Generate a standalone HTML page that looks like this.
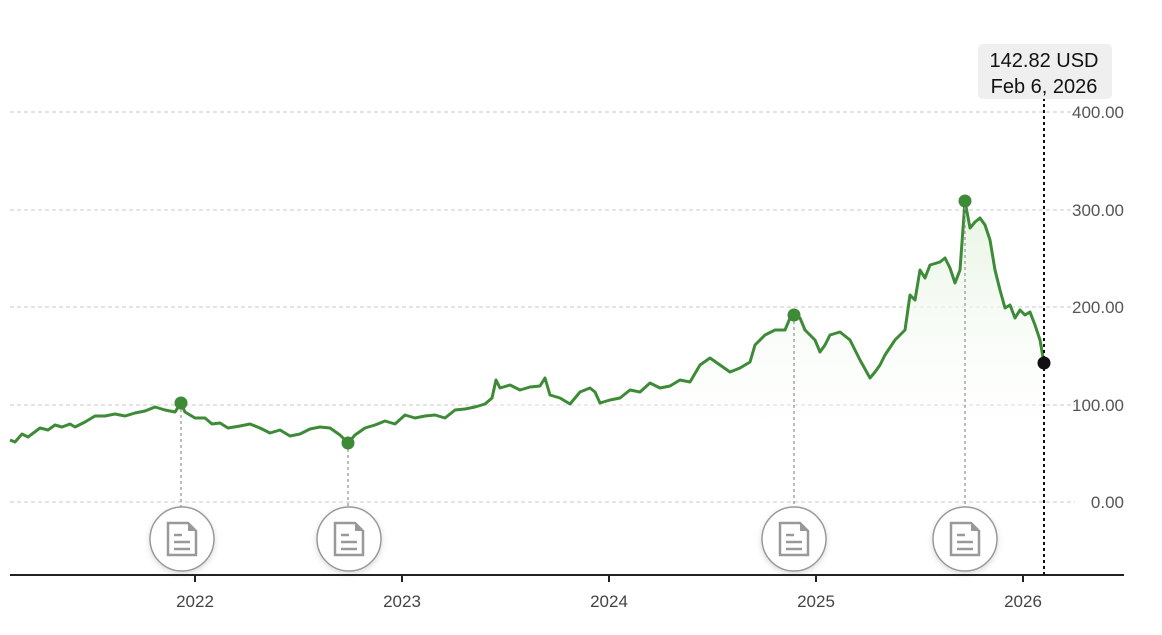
<!DOCTYPE html>
<html><head><style>
body{margin:0;background:#fff;font-family:"Liberation Sans",sans-serif;}
</style></head><body>
<svg width="1162" height="630" viewBox="0 0 1162 630" xmlns="http://www.w3.org/2000/svg" font-family="Liberation Sans, sans-serif">
<defs>
<linearGradient id="g" x1="0" y1="0" x2="0" y2="1"><stop offset="0" stop-color="#e6f4e2"/><stop offset="1" stop-color="#ffffff" stop-opacity="0.2"/></linearGradient>
<filter id="sh" x="-30%" y="-30%" width="160%" height="160%"><feDropShadow dx="0" dy="2" stdDeviation="3" flood-color="#000" flood-opacity="0.15"/></filter>
</defs>
<g stroke="#c8c8c8" stroke-dasharray="4,3" stroke-width="1">
<line x1="10" y1="112" x2="1075" y2="112"/><line x1="10" y1="210" x2="1075" y2="210"/>
<line x1="10" y1="307" x2="1075" y2="307"/><line x1="10" y1="405" x2="1075" y2="405"/>
<line x1="10" y1="502" x2="1075" y2="502"/>
</g>
<g fill="#555" font-size="17" text-anchor="end">
<text x="1124" y="118">400.00</text><text x="1124" y="216">300.00</text><text x="1124" y="313">200.00</text><text x="1124" y="411">100.00</text><text x="1124" y="508">0.00</text>
</g>
<polygon fill="url(#g)" points="10,445 10,440 15,442 22,434 28,437 40,428 48,430 55,425 62,427 70,424 75,427 85,422 95,416 105,416 115,414 125,416 135,413 145,411 155,407 165,410 175,412 181,403 185,412 195,418 205,418 212,424 220,423 228,428 240,426 250,424 260,428 270,433 280,430 290,436 300,434 310,429 320,427 330,428 340,435 348,443 355,435 365,428 375,425 385,421 395,424 405,415 415,418 425,416 435,415 445,418 455,410 465,409 475,407 485,404 492,398 496,380 500,388 510,385 520,390 530,387 540,386 545,378 550,395 560,398 570,404 580,392 590,388 595,392 600,403 610,400 620,398 630,390 640,392 650,383 660,388 670,386 680,380 690,382 700,365 710,358 720,365 730,372 740,368 750,362 755,345 765,335 775,330 785,330 790,318 794,315 800,318 805,330 815,340 820,352 825,345 830,335 840,332 850,340 860,360 870,378 875,372 880,365 885,355 895,340 905,330 910,295 915,300 920,270 925,278 930,265 940,262 945,258 950,268 955,283 960,270 965,201 970,228 975,222 980,218 985,225 990,240 995,270 1000,290 1005,308 1010,305 1015,318 1020,310 1025,315 1030,312 1035,325 1040,340 1044,363 1044,445"/>
<polyline fill="none" stroke="#3d8b37" stroke-width="3" stroke-linejoin="round" points="10,440 15,442 22,434 28,437 40,428 48,430 55,425 62,427 70,424 75,427 85,422 95,416 105,416 115,414 125,416 135,413 145,411 155,407 165,410 175,412 181,403 185,412 195,418 205,418 212,424 220,423 228,428 240,426 250,424 260,428 270,433 280,430 290,436 300,434 310,429 320,427 330,428 340,435 348,443 355,435 365,428 375,425 385,421 395,424 405,415 415,418 425,416 435,415 445,418 455,410 465,409 475,407 485,404 492,398 496,380 500,388 510,385 520,390 530,387 540,386 545,378 550,395 560,398 570,404 580,392 590,388 595,392 600,403 610,400 620,398 630,390 640,392 650,383 660,388 670,386 680,380 690,382 700,365 710,358 720,365 730,372 740,368 750,362 755,345 765,335 775,330 785,330 790,318 794,315 800,318 805,330 815,340 820,352 825,345 830,335 840,332 850,340 860,360 870,378 875,372 880,365 885,355 895,340 905,330 910,295 915,300 920,270 925,278 930,265 940,262 945,258 950,268 955,283 960,270 965,201 970,228 975,222 980,218 985,225 990,240 995,270 1000,290 1005,308 1010,305 1015,318 1020,310 1025,315 1030,312 1035,325 1040,340 1044,363"/>
<g stroke="#999" stroke-dasharray="3,3" stroke-width="1.3">
<line x1="181" y1="403" x2="181" y2="508"/><line x1="348" y1="443" x2="348" y2="508"/>
<line x1="794" y1="315" x2="794" y2="508"/><line x1="965" y1="201" x2="965" y2="508"/>
</g>
<g fill="#3d8b37"><circle cx="181" cy="403" r="6.5"/><circle cx="348" cy="443" r="6.5"/><circle cx="794" cy="315" r="6.5"/><circle cx="965" cy="201" r="6.5"/></g>
<g>
<g transform="translate(182,539)"><circle r="32" fill="#fff" stroke="#999" stroke-width="1.5" filter="url(#sh)"/><path d="M-14,-16 H6 L14,-8 V16 H-14 Z" fill="none" stroke="#999" stroke-width="2.5"/><path d="M6,-16 L14,-8 H6Z" fill="#999"/><g stroke="#999" stroke-width="2.5"><line x1="-8" y1="-4" x2="0" y2="-4"/><line x1="-8" y1="3" x2="8" y2="3"/><line x1="-8" y1="10" x2="8" y2="10"/></g></g>
<g transform="translate(349,539)"><circle r="32" fill="#fff" stroke="#999" stroke-width="1.5" filter="url(#sh)"/><path d="M-14,-16 H6 L14,-8 V16 H-14 Z" fill="none" stroke="#999" stroke-width="2.5"/><path d="M6,-16 L14,-8 H6Z" fill="#999"/><g stroke="#999" stroke-width="2.5"><line x1="-8" y1="-4" x2="0" y2="-4"/><line x1="-8" y1="3" x2="8" y2="3"/><line x1="-8" y1="10" x2="8" y2="10"/></g></g>
<g transform="translate(794,539)"><circle r="32" fill="#fff" stroke="#999" stroke-width="1.5" filter="url(#sh)"/><path d="M-14,-16 H6 L14,-8 V16 H-14 Z" fill="none" stroke="#999" stroke-width="2.5"/><path d="M6,-16 L14,-8 H6Z" fill="#999"/><g stroke="#999" stroke-width="2.5"><line x1="-8" y1="-4" x2="0" y2="-4"/><line x1="-8" y1="3" x2="8" y2="3"/><line x1="-8" y1="10" x2="8" y2="10"/></g></g>
<g transform="translate(965,539)"><circle r="32" fill="#fff" stroke="#999" stroke-width="1.5" filter="url(#sh)"/><path d="M-14,-16 H6 L14,-8 V16 H-14 Z" fill="none" stroke="#999" stroke-width="2.5"/><path d="M6,-16 L14,-8 H6Z" fill="#999"/><g stroke="#999" stroke-width="2.5"><line x1="-8" y1="-4" x2="0" y2="-4"/><line x1="-8" y1="3" x2="8" y2="3"/><line x1="-8" y1="10" x2="8" y2="10"/></g></g>
</g>
<line x1="10" y1="575" x2="1124" y2="575" stroke="#222" stroke-width="2"/>
<g stroke="#222" stroke-width="2"><line x1="195" y1="575" x2="195" y2="582"/><line x1="402" y1="575" x2="402" y2="582"/><line x1="609" y1="575" x2="609" y2="582"/><line x1="816" y1="575" x2="816" y2="582"/><line x1="1023" y1="575" x2="1023" y2="582"/></g>
<g fill="#444" font-size="17" text-anchor="middle"><text x="195" y="607">2022</text><text x="402" y="607">2023</text><text x="609" y="607">2024</text><text x="816" y="607">2025</text><text x="1023" y="607">2026</text></g>
<line x1="1044" y1="98" x2="1044" y2="575" stroke="#111" stroke-width="2" stroke-dasharray="3,3"/>
<circle cx="1044" cy="363" r="6.5" fill="#111"/>
<rect x="978" y="44" width="134" height="55" rx="5" fill="#efefef"/>
<g fill="#111" font-size="20" text-anchor="middle"><text x="1044" y="67">142.82 USD</text><text x="1044" y="93">Feb 6, 2026</text></g>
</svg>
</body></html>
